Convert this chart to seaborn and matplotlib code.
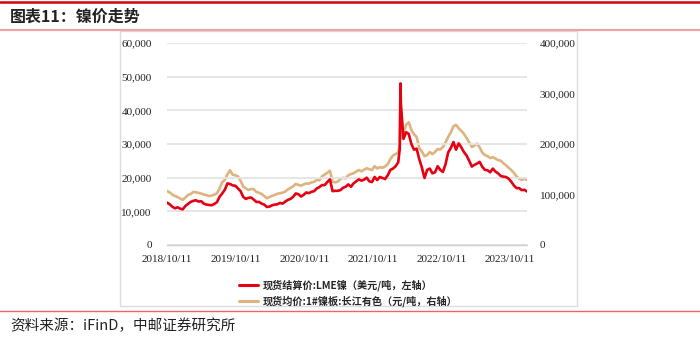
import matplotlib
matplotlib.use("Agg")
import matplotlib.pyplot as plt
import matplotlib.dates as mdates
from matplotlib.lines import Line2D
from matplotlib.patches import Rectangle
from matplotlib.ticker import FuncFormatter
import pandas as pd
import seaborn as sns

# Sampling dates (fortnightly) plus the two sessions around the March 2022 squeeze
dates = list(pd.date_range("2018-10-11", "2024-01-11", freq="14D"))
dates = dates[:89] + [pd.Timestamp("2022-03-04"), pd.Timestamp("2022-03-08")] + dates[89:]

# LME nickel cash settlement, USD/t (left axis)
lme_nickel = [
    12600, 12100, 11400, 10900, 11200, 10800, 10600, 11600, 12200, 12800,
    13100, 13300, 12900, 13000, 12300, 12000, 11900, 11800, 12200, 12700,
    14300, 15300, 16400, 18300, 18100, 17700, 17600, 16800, 16000, 14300,
    13700, 14000, 14100, 13500, 12800, 12800, 12300, 12000, 11300, 11400,
    11800, 12000, 12100, 12500, 12300, 12900, 13400, 13700, 14300, 15300,
    15100, 14400, 14900, 15600, 15400, 15800, 16000, 16800, 17200, 17800,
    17800, 18700, 19500, 16000, 16100, 16100, 16300, 17000, 17300, 18000,
    17300, 18300, 18900, 19500, 19100, 19400, 20000, 18900, 18700, 20200,
    19300, 20200, 19900, 19600, 20700, 22300, 22700, 23400, 24600,
    28500, 48000,
    42000, 31500, 33500, 33000, 30000, 28300, 28600, 25500, 23000, 19900,
    22300, 22700, 21300, 21600, 23400, 22300, 21700, 24000, 27500, 28800,
    30600, 28300, 30200, 29000, 27600, 26600, 25000, 23300, 23800, 24200,
    24700, 23200, 22300, 22200, 21600, 22700, 21800, 21300, 20500, 20300,
    20200, 19700, 18800, 17700, 16900, 16900, 16300, 16400, 15900,
]

# Changjiang 1# nickel plate spot average, CNY/t (right axis)
cj_nickel = [
    107000, 104000, 100000, 97000, 95000, 92000, 89500, 94000, 99000, 101000,
    105000, 104500, 103000, 102000, 100000, 98500, 97000, 98000, 99500, 102500,
    112000, 124000, 129000, 140000, 148000, 139000, 138000, 136000, 127000, 116000,
    112000, 109000, 111000, 110500, 105000, 103500, 101000, 97000, 92500, 95000,
    97500, 99000, 101500, 102500, 103500, 106000, 110000, 113000, 116000, 121000,
    119000, 117500, 120000, 122000, 121500, 124000, 125000, 129000, 128000, 136000,
    139500, 143000, 147000, 125500, 124000, 125500, 131000, 133000, 132000, 138000,
    140500, 142000, 145500, 148500, 146000, 149000, 152000, 150000, 148500, 156000,
    151500, 154000, 153000, 155500, 160000, 170000, 177000, 180000, 183000,
    200000, 295000,
    212000, 222000, 238000, 243000, 228000, 219000, 214000, 192000, 185000, 176000,
    178000, 184000, 180000, 184500, 190000, 189000, 194000, 203000, 214000, 223000,
    235000, 238000, 231000, 226000, 220000, 212000, 203000, 194000, 197000, 201000,
    193000, 183000, 178000, 176000, 172000, 174000, 171000, 168000, 167000, 162000,
    158000, 153000, 148500, 143000, 136000, 131500, 129000, 131000, 129000,
]

tick_dates = ["2018-10-11", "2019-10-11", "2020-10-11", "2021-10-11", "2022-10-11", "2023-10-11"]
left_ticks = [0, 10000, 20000, 30000, 40000, 50000, 60000]
right_ticks = [0, 100000, 200000, 300000, 400000]

series_names = ["现货结算价:LME镍（美元/吨，左轴）", "现货均价:1#镍板:长江有色（元/吨，右轴）"]
RED = "#E60012"
TAN = "#DDB47F"

df = pd.DataFrame({"date": dates, "lme": lme_nickel, "cj": cj_nickel})

sns.set_style("white")
plt.rcParams["font.family"] = ["Noto Sans CJK SC", "DejaVu Sans"]

W, H = 700, 345
fig = plt.figure(figsize=(W / 100, H / 100), dpi=100)

# page decorations: header rules, title, chart frame, footer rule, source
fig.add_artist(Line2D([0, 1], [1 - 2 / H, 1 - 2 / H], color="#D7000F", lw=1.8))
fig.add_artist(Line2D([0, 1], [1 - 29.5 / H, 1 - 29.5 / H], color="#EBA3A6", lw=1.6))
fig.add_artist(Line2D([0, 1], [1 - 311 / H, 1 - 311 / H], color="#E8666B", lw=1.0))
fig.add_artist(Rectangle((120 / W, 1 - 306 / H), 457 / W, 275 / H, fill=False,
                         edgecolor="#DCDCDC", lw=1.0))
fig.text(10 / W, 1 - 17 / H, "图表11：镍价走势", fontsize=11.5, fontweight="bold",
         va="center", ha="left", color="#222222")
fig.text(10 / W, 1 - 326 / H, "资料来源：iFinD，中邮证券研究所", fontsize=10.5,
         va="center", ha="left", color="#222222")

ax = fig.add_axes([167 / W, 1 - 245 / H, 360 / W, 202 / H])
ax2 = ax.twinx()

sns.lineplot(data=df, x="date", y="cj", ax=ax2, color=TAN, lw=1.9)
sns.lineplot(data=df, x="date", y="lme", ax=ax, color=RED, lw=1.9)

ax.set_zorder(ax2.get_zorder() + 1)
ax.patch.set_visible(False)

ax.set_xlim(pd.Timestamp("2018-10-11"), pd.Timestamp("2024-01-11"))
ax.set_ylim(0, 60000)
ax2.set_ylim(0, 400000)
ax.set_yticks(left_ticks)
ax2.set_yticks(right_ticks)
ax.set_xticks(pd.to_datetime(tick_dates))
ax.xaxis.set_major_formatter(mdates.DateFormatter("%Y/%m/%d"))
comma = FuncFormatter(lambda v, p: f"{int(v):,}")
ax.yaxis.set_major_formatter(comma)
ax2.yaxis.set_major_formatter(comma)

ax.set_xlabel("")
ax.set_ylabel("")
ax2.set_ylabel("")
ax.grid(axis="y", color="#E4E4E4", lw=1.3)
ax.grid(axis="x", visible=False)
ax2.grid(False)

for a in (ax, ax2):
    for s in a.spines.values():
        s.set_visible(False)
ax.spines["bottom"].set_visible(True)
ax.spines["bottom"].set_color("#D0D0D0")
ax.spines["bottom"].set_linewidth(1.0)

serif = "Liberation Serif"
ax.tick_params(axis="x", direction="out", length=4, width=0.8, color="#C8C8C8",
               pad=3, labelsize=8, labelcolor="#222222")
ax.tick_params(axis="y", length=0, pad=11, labelsize=8, labelcolor="#222222")
ax2.tick_params(axis="y", length=0, pad=9, labelsize=8, labelcolor="#222222")
for lab in ax.get_xticklabels() + ax.get_yticklabels() + ax2.get_yticklabels():
    lab.set_fontfamily(serif)

handles = [Line2D([], [], color=RED, lw=2.2), Line2D([], [], color=TAN, lw=2.2)]
fig.legend(handles, series_names, loc="upper left",
           bbox_to_anchor=(239 / W, 1 - 279 / H), frameon=False,
           prop={"size": 7.3, "weight": "bold"},
           handlelength=1.9, handletextpad=0.4, labelspacing=0.45,
           borderpad=0, borderaxespad=0)

fig.savefig("out.png", dpi=100)
